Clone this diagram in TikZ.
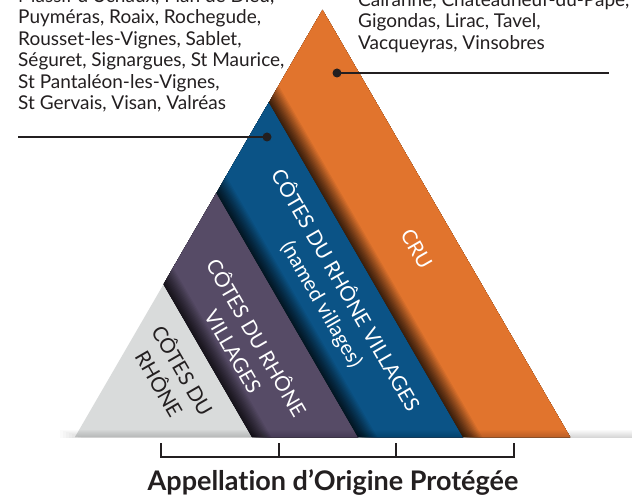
\documentclass[tikz,border=0pt]{standalone}
\usepackage{fontspec}
\setmainfont[Ligatures=NoCommon]{Lato}
\usetikzlibrary{calc}
\definecolor{cru}{HTML}{E1742D}
\definecolor{crvn}{HTML}{0B5386}
\definecolor{crv}{HTML}{564B66}
\definecolor{cdr}{HTML}{D9DBDB}
\definecolor{ink}{HTML}{231F20}
\newcommand\bandshade[3]{%
  \begin{scope}
    \clip #1;
    \foreach \k in {0,...,16}{%
      \pgfmathsetmacro\pc{22+78*(\k/16)^1.3}%
      \fill[#3!\pc!black] (#2+\k*1.4,442) -- (#2+420,442) -- ++(-300,-517.6) -- (#2+\k*1.4-300,-75.6) -- cycle;
    }
  \end{scope}}
\begin{document}
\begin{tikzpicture}[x=1pt,y=-1pt,
  vtext/.style={anchor=base west,inner sep=0,text=ink,font=\fontsize{19}{21.5}\selectfont},
  bandlabel/.style={rotate=-60,inner sep=0,align=center,font=\fontsize{20.5}{27}\selectfont},
  leader/.style={line width=2.6pt,ink},
  dotmark/.style={circle,fill=ink,inner sep=0,minimum size=9pt},
  bracket/.style={line width=2.4pt,ink}]
\useasboundingbox (0,0) rectangle (632,497);
\fill[white] (0,0) rectangle (632,497);
\coordinate (A) at (322.5,10);
\coordinate (L) at (75,437);
\coordinate (R) at (570,437);
\coordinate (b1) at (252,437);
\coordinate (b2) at (358,437);
\coordinate (b3) at (463,437);
\coordinate (t1) at ($(L)!0.3576!(A)$);
\coordinate (t2) at ($(L)!0.5717!(A)$);
\coordinate (t3) at ($(L)!0.7838!(A)$);
% bands
\fill[cdr] (L) -- (b1) -- (t1) -- cycle;
\fill[crv] (b1) -- (b2) -- (t2) -- (t1) -- cycle;
\fill[crvn] (b2) -- (b3) -- (t3) -- (t2) -- cycle;
\fill[cru] (b3) -- (R) -- (A) -- (t3) -- cycle;
% shadows along the left side of each band
\bandshade{(b1) -- (b2) -- (t2) -- (t1) -- cycle}{252}{crv}
\bandshade{(b2) -- (b3) -- (t3) -- (t2) -- cycle}{358}{crvn}
\bandshade{(b3) -- (R) -- (A) -- (t3) -- cycle}{463}{cru}
% floor shadow
\foreach \k in {0,...,7}{\fill[black,opacity=0.018] (60+\k*3,430+\k) rectangle (632,437.5);}
% band labels
\node[bandlabel,text=white] (cru) at (416.5,248.5) {CRU};
\node[bandlabel,text=white] (named) at (334,297) {CÔTES DU RHÔNE VILLAGES\\(named villages)};
\node[bandlabel,text=white] (vill) at (246,344) {CÔTES DU RHÔNE\\VILLAGES};
\node[bandlabel,text=ink] (cdr) at (172,376.5) {CÔTES DU\\RHÔNE};
% left village list
\node[vtext] (l0) at (18,2.5) {Massif d’Uchaux, Plan de Dieu,};
\node[vtext] (l1) at (18,24) {Puyméras, Roaix, Rochegude,};
\node[vtext] (l2) at (18,45.5) {Rousset-les-Vignes, Sablet,};
\node[vtext] (l3) at (18,67) {Séguret, Signargues, St Maurice,};
\node[vtext] (l4) at (18,88.5) {St Pantaléon-les-Vignes,};
\node[vtext] (l5) at (18,110) {St Gervais, Visan, Valréas};
% right cru list
\node[vtext] (r0) at (358,6.5) {Cairanne, Châteauneuf-du-Pape,};
\node[vtext] (r1) at (358,28) {Gigondas, Lirac, Tavel,};
\node[vtext] (r2) at (358,49.5) {Vacqueyras, Vinsobres};
% leaders
\coordinate (ll) at (18,137);
\node[dotmark] (dl) at (267,137) {};
\draw[leader] (ll) -- (dl.center);
\coordinate (lr) at (609,73);
\node[dotmark] (dr) at (337,73) {};
\draw[leader] (dr.center) -- (lr);
% bracket
\coordinate (k1) at (161,443);
\coordinate (k2) at (279,443);
\coordinate (k3) at (396,443);
\coordinate (k4) at (514,443);
\draw[bracket] (k1) -- ++(0,14) -| (k4);
\draw[bracket] (k2) -- ++(0,14);
\draw[bracket] (k3) -- ++(0,14);
\node[anchor=base,inner sep=0,text=ink,font=\fontsize{27}{30}\selectfont\bfseries] (aop) at (333,490) {Appellation d’Origine Protégée};
\end{tikzpicture}
\end{document}
